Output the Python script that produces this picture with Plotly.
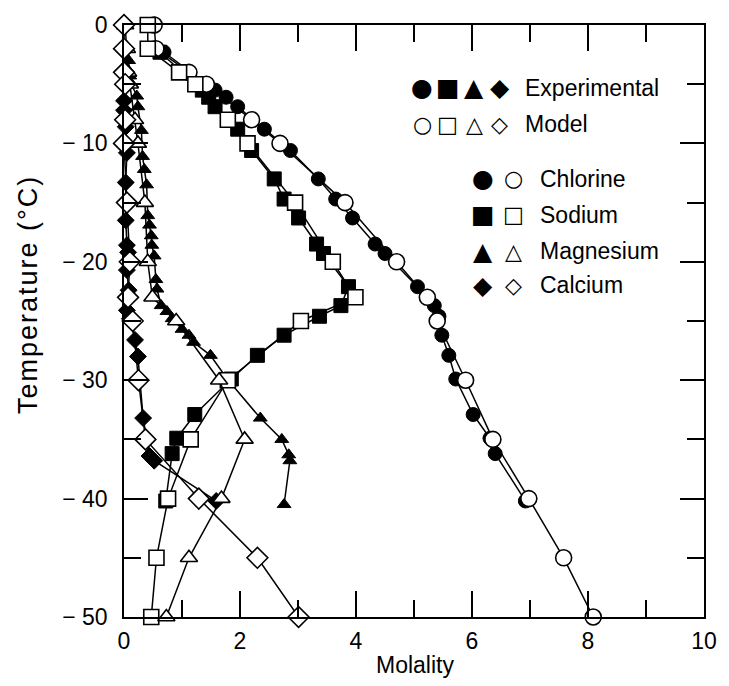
import plotly.graph_objects as go

# ---------------- data ----------------
T_model = [0, -2, -4, -5, -8, -10, -15, -20, -23, -25, -30, -35, -40, -45, -50]
cl_model = [0.52, 0.55, 1.12, 1.42, 2.20, 2.69, 3.81, 4.70, 5.23, 5.40, 5.89, 6.36, 6.98, 7.58, 8.09]
na_model = [0.41, 0.41, 0.95, 1.23, 1.79, 2.13, 2.95, 3.60, 3.99, 3.05, 1.79, 1.15, 0.76, 0.56, 0.47]
mg_model = [0.02, 0.05, 0.07, 0.10, 0.19, 0.24, 0.36, 0.41, 0.49, 0.90, 1.64, 2.08, 1.68, 1.12, 0.73]
ca_model = [0.00, 0.00, 0.00, 0.02, 0.02, 0.00, 0.05, 0.10, 0.07, 0.15, 0.25, 0.37, 1.29, 2.30, 3.01]

T_exp = [-2.3, -5.5, -6.1, -6.9, -8.8, -10.6, -13.0, -14.7, -16.3, -18.5, -19.3,
         -22.1, -23.7, -24.6, -26.2, -27.9, -29.9, -32.9, -34.9, -36.2, -40.2]
cl_exp = [0.69, 1.57, 1.76, 1.96, 2.42, 2.87, 3.35, 3.65, 3.94, 4.33, 4.50,
          5.06, 5.35, 5.43, 5.48, 5.60, 5.72, 6.02, 6.31, 6.40, 6.92]
na_exp = [0.62, 1.35, 1.46, 1.57, 1.96, 2.20, 2.59, 2.76, 3.01, 3.32, 3.44,
          3.87, 3.74, 3.37, 2.76, 2.30, 1.85, 1.22, 0.91, 0.83, 0.72]

T_mg_exp = [-3.0, -4.3, -5.0, -6.0, -6.9, -8.9, -11.1, -12.2, -13.5, -16.1, -16.9, -17.8,
            -18.6, -19.5, -21.5, -22.3, -23.7, -24.2, -24.8, -25.7, -26.2, -26.8, -27.9,
            -29.9, -33.2, -35.0, -36.3, -36.8, -40.5]
mg_exp = [0.08, 0.10, 0.13, 0.22, 0.24, 0.30, 0.32, 0.35, 0.39, 0.41, 0.44, 0.47,
          0.48, 0.52, 0.55, 0.57, 0.64, 0.74, 0.83, 1.00, 1.12, 1.20, 1.49,
          1.78, 2.35, 2.72, 2.84, 2.86, 2.76]

T_ca_exp = [-5.0, -6.4, -7.2, -8.6, -10.8, -13.3, -16.5, -18.6, -19.2, -20.7, -22.4,
            -24.1, -24.8, -26.6, -28.0, -33.2, -36.4, -36.8, -40.2]
ca_exp = [0.05, 0.00, 0.00, 0.03, 0.05, 0.03, 0.03, 0.05, 0.07, 0.05, 0.08,
          0.05, 0.10, 0.19, 0.24, 0.33, 0.44, 0.52, 1.59]

x_ticks = [0, 2, 4, 6, 8, 10]
y_ticks = [0, -10, -20, -30, -40, -50]
y_ticktext = ["0", "\u2212 10", "\u2212 20", "\u2212 30", "\u2212 40", "\u2212 50"]

species = ["Chlorine", "Sodium", "Magnesium", "Calcium"]
symbols = ["circle", "square", "triangle-up", "diamond"]
filled_glyph = ["\u25CF", "\u25A0", "\u25B2", "\u25C6"]
open_glyph = ["\u25CB", "\u25A1", "\u25B3", "\u25C7"]

# ---------------- figure ----------------
W, H = 729, 686
L, R, T, B = 124, 14, 21, 69
pw, ph = W - L - R, H - T - B


def px(xp):
    return (xp - L) / pw


def py(yp):
    return (H - B - yp) / ph


fig = go.Figure()

exp_sets = [(cl_exp, T_exp, 14), (na_exp, T_exp, 14), (mg_exp, T_mg_exp, 12), (ca_exp, T_ca_exp, 13)]
mod_sets = [(cl_model, 16), (na_model, 15), (mg_model, 15), (ca_model, 16)]

for (xs, ts, sz), sym, name in zip(exp_sets, symbols, species):
    fig.add_trace(go.Scatter(
        x=xs, y=ts, mode="lines+markers", name=name + " (exp)",
        line=dict(color="black", width=1.5),
        marker=dict(symbol=sym, size=sz, color="black", line=dict(color="black", width=1)),
        cliponaxis=False, showlegend=False))

for (xs, sz), sym, name in zip(mod_sets, symbols, species):
    fig.add_trace(go.Scatter(
        x=xs, y=T_model, mode="lines+markers", name=name + " (model)",
        line=dict(color="black", width=1.5),
        marker=dict(symbol=sym, size=sz, color="white", line=dict(color="black", width=1.6)),
        cliponaxis=False, showlegend=False))

FONT = "Liberation Sans, Arial, Helvetica, sans-serif"
GLYPH = "DejaVu Sans, sans-serif"

ann = []
# axis titles
ann.append(dict(text="Molality", xref="paper", yref="paper", x=px(421), y=py(665),
                showarrow=False, font=dict(size=23, family=FONT, color="black"),
                xanchor="center", yanchor="middle"))
ann.append(dict(text='<span style="letter-spacing:2px">Temperature (\u00B0C)</span>',
                xref="paper", yref="paper", x=px(26), y=py(292),
                showarrow=False, textangle=-90, font=dict(size=27, family=FONT, color="black"),
                xanchor="center", yanchor="middle"))

# legend block (text-based)
row1_y, row2_y = 84, 121
gx = [428, 454, 481, 507]
for g, xg in zip(filled_glyph, gx):
    ann.append(dict(text=g, xref="paper", yref="paper", x=px(xg), y=py(row1_y), showarrow=False,
                    font=dict(size=25, family=GLYPH, color="black"), xanchor="center", yanchor="middle"))
for g, xg in zip(open_glyph, gx):
    ann.append(dict(text=g, xref="paper", yref="paper", x=px(xg), y=py(row2_y), showarrow=False,
                    font=dict(size=22, family=GLYPH, color="black"), xanchor="center", yanchor="middle"))
ann.append(dict(text="Experimental", xref="paper", yref="paper", x=px(531), y=py(row1_y), showarrow=False,
                font=dict(size=23, family=FONT, color="black"), xanchor="left", yanchor="middle"))
ann.append(dict(text="Model", xref="paper", yref="paper", x=px(531), y=py(row2_y), showarrow=False,
                font=dict(size=23, family=FONT, color="black"), xanchor="left", yanchor="middle"))

rows_y = [176, 212, 249, 283]
for name, fg, og, yy in zip(species, filled_glyph, open_glyph, rows_y):
    ann.append(dict(text=fg, xref="paper", yref="paper", x=px(490), y=py(yy), showarrow=False,
                    font=dict(size=25, family=GLYPH, color="black"), xanchor="center", yanchor="middle"))
    ann.append(dict(text=og, xref="paper", yref="paper", x=px(521), y=py(yy), showarrow=False,
                    font=dict(size=22, family=GLYPH, color="black"), xanchor="center", yanchor="middle"))
    ann.append(dict(text=name, xref="paper", yref="paper", x=px(546), y=py(yy), showarrow=False,
                    font=dict(size=23, family=FONT, color="black"), xanchor="left", yanchor="middle"))

axis_common = dict(
    showline=True, linecolor="black", linewidth=1.6, mirror="ticks",
    ticks="inside", tickcolor="black", tickwidth=1.5,
    showgrid=False, zeroline=False,
    tickfont=dict(size=23, family=FONT, color="black"),
)

fig.update_layout(
    width=W, height=H,
    margin=dict(l=L, r=R, t=T, b=B, pad=0),
    paper_bgcolor="white", plot_bgcolor="white",
    showlegend=False,
    annotations=ann,
    xaxis=dict(range=[0, 10], tickvals=x_ticks, ticktext=[str(v) for v in x_ticks], ticklen=26,
               ticklabelstandoff=3,
               minor=dict(dtick=1, ticks="inside", ticklen=17, tickcolor="black", tickwidth=1.5, showgrid=False),
               **axis_common),
    yaxis=dict(range=[-50, 0], tickvals=y_ticks, ticktext=y_ticktext, ticklen=24,
               ticklabelstandoff=10,
               minor=dict(dtick=5, ticks="inside", ticklen=17, tickcolor="black", tickwidth=1.5, showgrid=False),
               **axis_common),
)

fig.write_html("out.html")
